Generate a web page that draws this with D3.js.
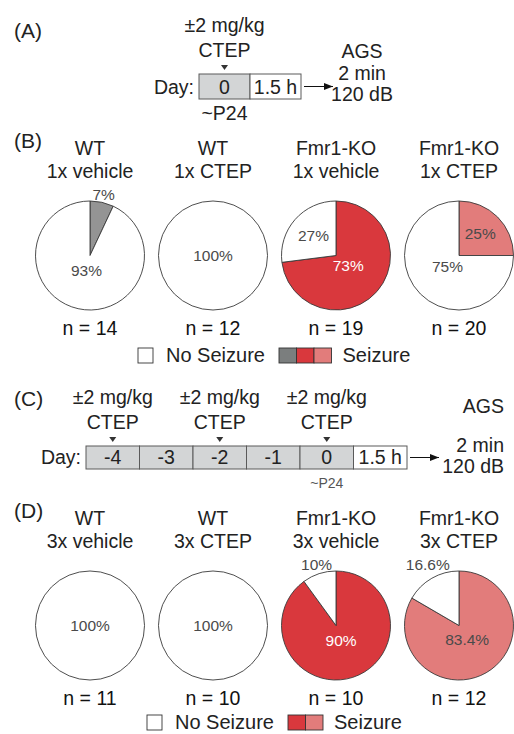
<!DOCTYPE html>
<html>
<head>
<meta charset="utf-8">
<script src="https://cdn.jsdelivr.net/npm/d3@7"></script>
<style>
  body { margin: 0; background: #fff; }
  svg text { font-family: "Liberation Sans", Helvetica, Arial, sans-serif; }
</style>
</head>
<body>
<div id="chart"></div>
<script>
// ---- data ----
const genotypes = ['WT', 'WT', 'Fmr1-KO', 'Fmr1-KO'];
const treatmentsB = ['1x vehicle', '1x CTEP', '1x vehicle', '1x CTEP'];
const treatmentsD = ['3x vehicle', '3x CTEP', '3x vehicle', '3x CTEP'];
const seizurePctB = [7, 0, 73, 25];
const seizurePctD = [0, 0, 90, 83.4];
const nB = [14, 12, 19, 20];
const nD = [11, 10, 10, 12];
const seizureColorB = ['#949494', '#d9383d', '#d9383d', '#e27c7b'];
const seizureColorD = ['#d9383d', '#d9383d', '#d9383d', '#e27c7b'];
const legendColorsB = ['#7b7e7e', '#d9383d', '#e27c7b'];
const legendColorsD = ['#d9383d', '#e27c7b'];
const daysA = ['0', '1.5 h'];
const daysC = ['-4', '-3', '-2', '-1', '0', '1.5 h'];
const doseDaysA = ['0'];
const doseDaysC = ['-4', '-2', '0'];
const agsLines = ['AGS', '2 min', '120 dB'];

const W = 514, H = 734;
const svg = d3.select('#chart').append('svg')
  .attr('width', W)
  .attr('height', H);

svg.append('defs').append('marker')
  .attr('id', 'arrow')
  .attr('viewBox', '0 0 10 10')
  .attr('refX', 10).attr('refY', 5)
  .attr('markerWidth', 9).attr('markerHeight', 9)
  .attr('markerUnits', 'userSpaceOnUse')
  .attr('orient', 'auto')
  .append('path')
  .attr('d', 'M0,1 L10,5 L0,9 Z')
  .attr('fill', '#111');

const fs = 19.5;
const col = d3.scalePoint().domain(d3.range(4)).range([90, 459]);
const R = 54.5;

function panelLabel(txt, y) {
  svg.append('text').attr('x', 14).attr('y', y)
    .attr('font-size', 21).attr('fill', '#222').text(txt);
}

// timeline with dose markers, AGS note
function timeline(opts) {
  const g = svg.append('g');
  const x = d3.scaleBand().domain(opts.days).range(opts.range);
  const h = opts.y1 - opts.y0;

  g.selectAll('rect.cell')
    .data(opts.days)
    .join('rect')
    .attr('class', 'cell')
    .attr('x', d => x(d))
    .attr('y', opts.y0)
    .attr('width', x.bandwidth())
    .attr('height', h)
    .attr('fill', d => d === '1.5 h' ? '#fff' : '#d3d5d6')
    .attr('stroke', '#5a5a5a')
    .attr('stroke-width', 1);

  g.selectAll('text.day')
    .data(opts.days)
    .join('text')
    .attr('class', 'day')
    .attr('x', d => x(d) + x.bandwidth() / 2)
    .attr('y', opts.y1 - 5)
    .attr('text-anchor', 'middle')
    .attr('font-size', fs)
    .attr('fill', '#222')
    .text(d => d);

  g.append('text')
    .attr('x', opts.range[0] - 5)
    .attr('y', opts.y1 - 5)
    .attr('text-anchor', 'end')
    .attr('font-size', fs)
    .attr('fill', '#222')
    .text('Day:');

  opts.doses.forEach(d => {
    const cx = x(d) + x.bandwidth() / 2;
    g.append('path')
      .attr('d', `M${cx - 3.5},${opts.y0 - 9} L${cx + 3.5},${opts.y0 - 9} L${cx},${opts.y0 - 4} Z`)
      .attr('fill', '#333');
    g.append('text').attr('x', cx).attr('y', opts.y0 - 17)
      .attr('text-anchor', 'middle').attr('font-size', fs).attr('fill', '#222')
      .text('CTEP');
    g.append('text').attr('x', cx).attr('y', opts.y0 - 42)
      .attr('text-anchor', 'middle').attr('font-size', fs).attr('fill', '#222')
      .text('±2 mg/kg');
  });

  // ~P24 under day 0
  const p0 = x('0') + x.bandwidth() / 2;
  g.append('text')
    .attr('x', p0)
    .attr('y', opts.y1 + opts.p24dy)
    .attr('text-anchor', 'middle')
    .attr('font-size', opts.p24size)
    .attr('fill', opts.p24color)
    .text('~P24');

  const ay = (opts.y0 + opts.y1) / 2;
  g.append('line')
    .attr('x1', opts.range[1] + 3).attr('x2', opts.range[1] + 32)
    .attr('y1', ay).attr('y2', ay)
    .attr('stroke', '#111').attr('stroke-width', 1)
    .attr('marker-end', 'url(#arrow)');

  g.selectAll('text.ags')
    .data(agsLines)
    .join('text')
    .attr('class', 'ags')
    .attr('x', opts.agsX)
    .attr('y', (d, j) => j === 0 ? opts.agsY : opts.agsY + opts.agsGap + (j - 1) * 21)
    .attr('text-anchor', opts.agsAnchor)
    .attr('font-size', fs)
    .attr('fill', '#222')
    .text(d => d);
}

function pies(opts) {
  const g = svg.append('g');
  const pie = d3.pie().sort(null).value(d => d.v);
  const arc = d3.arc().innerRadius(0).outerRadius(R);

  opts.seizure.forEach((s, i) => {
    const cx = col(i);
    const cg = g.append('g').attr('transform', `translate(${cx},${opts.cy})`);

    g.append('text').attr('x', cx).attr('y', opts.titleY)
      .attr('text-anchor', 'middle').attr('font-size', fs).attr('fill', '#222')
      .text(genotypes[i]);
    g.append('text').attr('x', cx).attr('y', opts.titleY + 23)
      .attr('text-anchor', 'middle').attr('font-size', fs).attr('fill', '#222')
      .text(opts.treatments[i]);
    g.append('text').attr('x', cx).attr('y', opts.nY)
      .attr('text-anchor', 'middle').attr('font-size', fs).attr('fill', '#111')
      .text('n = ' + opts.n[i]);

    const parts = [
      { v: s, seizure: true },
      { v: +(100 - s).toFixed(1), seizure: false }
    ];
    const arcs = pie(parts).filter(d => d.data.v > 0);

    cg.selectAll('path')
      .data(arcs)
      .join('path')
      .attr('d', arc)
      .attr('fill', d => d.data.seizure ? opts.colors[i] : '#fff')
      .attr('stroke', '#3a3a3a')
      .attr('stroke-width', 0.9);

    cg.selectAll('text.pct')
      .data(arcs)
      .join('text')
      .attr('class', 'pct')
      .attr('text-anchor', 'middle')
      .attr('font-size', 15.5)
      .attr('fill', d => (d.data.seizure && opts.colors[i] === '#d9383d') ? '#fff' : '#4a4a4a')
      .attr('transform', d => {
        const mid = (d.startAngle + d.endAngle) / 2;
        let px, py;
        if (d.data.v >= 100) { px = 0; py = 0; }
        else if (d.data.v < 20) {
          px = Math.sin(mid) * R * 1.15; py = -R - 6;
        } else {
          const k = d.data.v < 50 ? 0.55 : 0.3;
          px = Math.sin(mid) * R * k; py = -Math.cos(mid) * R * k;
        }
        return `translate(${px},${py + 5})`;
      })
      .text(d => d.data.v + '%');
  });

  // legend
  const lg = g.append('g');
  lg.append('rect')
    .attr('x', opts.legX).attr('y', opts.legY)
    .attr('width', 15).attr('height', 15)
    .attr('fill', '#fff').attr('stroke', '#333').attr('stroke-width', 0.9);
  lg.append('text')
    .attr('x', opts.legX + 28).attr('y', opts.legY + 14)
    .attr('font-size', 20).attr('fill', '#222').text('No Seizure');
  const sx = opts.legX + 141;
  lg.selectAll('rect.sw')
    .data(opts.legColors)
    .join('rect')
    .attr('class', 'sw')
    .attr('x', (d, j) => sx + j * 17.5)
    .attr('y', opts.legY)
    .attr('width', 17.5).attr('height', 15)
    .attr('fill', d => d)
    .attr('stroke', '#333').attr('stroke-width', 0.9);
  lg.append('text')
    .attr('x', sx + opts.legColors.length * 17.5 + 11).attr('y', opts.legY + 14)
    .attr('font-size', 20).attr('fill', '#222').text('Seizure');
}

// (A)
panelLabel('(A)', 38);
timeline({
  days: daysA, doses: doseDaysA, range: [199, 301], y0: 74, y1: 99,
  p24dy: 21, p24size: fs, p24color: '#222',
  agsX: 362, agsAnchor: 'middle', agsY: 58, agsGap: 22
});

// (B)
panelLabel('(B)', 148);
pies({
  seizure: seizurePctB, treatments: treatmentsB, n: nB, colors: seizureColorB,
  titleY: 155, cy: 255.5, nY: 335, legX: 138, legY: 348, legColors: legendColorsB
});

// (C)
panelLabel('(C)', 406);
timeline({
  days: daysC, doses: doseDaysC, range: [86, 407], y0: 446, y1: 469,
  p24dy: 19, p24size: 14, p24color: '#555',
  agsX: 504, agsAnchor: 'end', agsY: 413, agsGap: 39
});

// (D)
panelLabel('(D)', 518);
pies({
  seizure: seizurePctD, treatments: treatmentsD, n: nD, colors: seizureColorD,
  titleY: 525, cy: 625.5, nY: 705, legX: 147, legY: 715, legColors: legendColorsD
});
</script>
</body>
</html>
